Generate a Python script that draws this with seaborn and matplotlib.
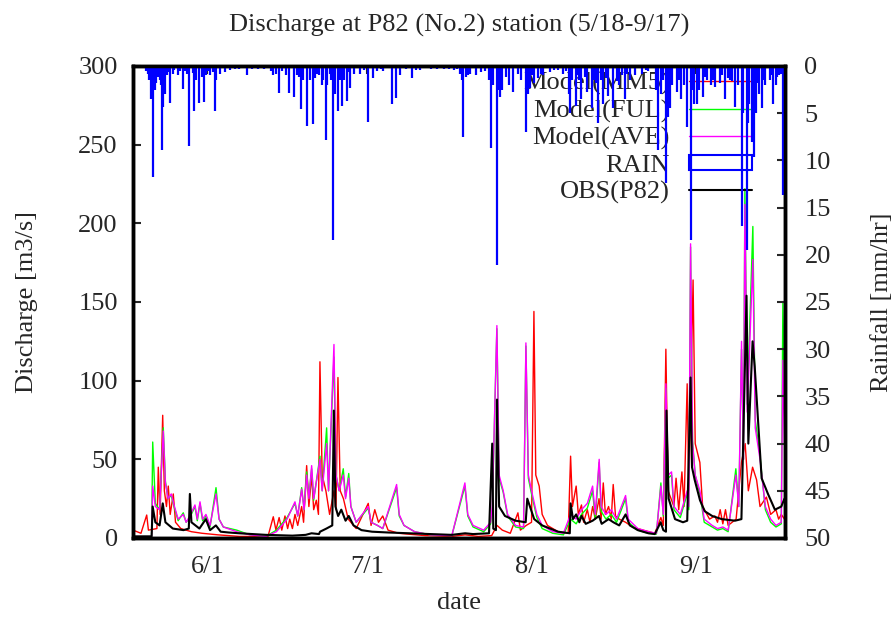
import matplotlib
matplotlib.use("Agg")
import matplotlib.pyplot as plt
import seaborn as sns
from matplotlib.lines import Line2D
from matplotlib.patches import Patch

# days counted from 5/18 00:00
tick_days = [14, 44, 75, 106]
tick_labels = ["6/1", "7/1", "8/1", "9/1"]

# OBS(P82)
obs_day = [0.0, 3.5, 3.7, 4.2, 5.0, 5.6, 6.1, 7.5, 9.5, 10.5,
           10.7, 11.0, 12.5, 13.7, 14.5, 15.6, 16.5, 18.0, 20.0, 25.0,
           30.0, 32.5, 33.6, 35.0, 35.2, 36.4, 37.5, 37.8, 38.1, 38.6,
           39.2, 40.0, 40.6, 41.5, 43.0, 45.0, 48.0, 52.0, 56.0, 60.0,
           62.5, 64.0, 67.0, 67.6, 67.8, 68.3, 68.5, 68.9, 70.0, 72.0,
           73.9, 74.2, 75.5, 77.0, 80.0, 82.2, 82.35, 82.8, 83.4, 84.0,
           84.4, 85.2, 86.5, 87.7, 88.2, 89.5, 90.4, 91.5, 92.7, 93.5,
           95.0, 97.0, 98.2, 99.3, 99.8, 100.3, 100.4, 100.8, 102.0, 103.5,
           104.3, 104.93, 105.2, 105.7, 106.7, 107.6, 109.0, 110.8, 113.3, 114.5,
           115.46, 115.8, 116.6, 117.0, 118.3, 119.5, 120.8, 122.0, 122.6]
obs_q = [1.0, 1.0, 20, 10, 8, 22, 10, 6, 5, 6,
         28, 10, 6, 12, 5, 8, 4, 3.5, 3, 2,
         1.5, 2, 3, 2.5, 4, 6, 8, 81, 20, 14,
         18, 11, 14, 8, 5, 4, 3.5, 3, 2.5, 2,
         3, 2.5, 3, 60, 6, 5, 88, 20, 14, 11,
         10, 25, 12, 8, 4, 3, 22, 12, 15, 10,
         14, 9, 11, 14, 9, 12, 10, 8, 15, 8,
         5, 3, 2.5, 10, 5, 4, 81, 25, 12, 10,
         11, 102, 45, 37, 24, 17, 14, 12, 11, 12,
         154, 60, 125, 109, 38, 28, 18, 20, 25]

# Model(MM5)
mm5_day = [0.0, 1.5, 2.58, 2.9, 4.5, 4.76, 5.1, 5.59, 5.9, 6.3,
           6.64, 7.0, 7.58, 8.0, 9.0, 11.0, 13.0, 16.0, 20.0, 25.4,
           26.4, 26.9, 27.5, 28.0, 28.6, 29.1, 29.5, 30.0, 30.48, 31.0,
           31.74, 32.1, 32.68, 33.1, 33.62, 34.0, 34.5, 34.9, 35.18, 35.6,
           36.3, 37.0, 37.82, 38.2, 38.57, 39.0, 39.6, 40.5, 42.0, 44.27,
           44.8, 45.5, 46.2, 47.0, 48.0, 50.0, 55.0, 60.0, 62.5, 65.0,
           67.5, 68.5, 69.5, 71.0, 72.44, 72.9, 74.0, 75.0, 75.45, 75.8,
           76.44, 77.0, 78.0, 80.0, 81.9, 82.35, 82.7, 83.4, 83.8, 84.4,
           84.8, 85.5, 86.0, 86.5, 87.0, 87.7, 88.1, 88.5, 88.9, 89.5,
           90.0, 90.37, 90.8, 91.5, 92.7, 94.0, 96.0, 98.2, 99.34, 99.8,
           100.28, 100.7, 101.8, 102.2, 102.7, 103.3, 103.7, 104.29, 104.6, 105.4,
           105.8, 106.68, 107.2, 108.5, 109.5, 110.0, 110.5, 111.0, 111.5, 112.0,
           113.5, 114.5, 115.2, 115.8, 116.6, 117.35, 118.0, 119.2, 120.0, 121.0,
           121.5, 122.0, 122.6]
mm5_q = [5, 3, 14.6, 5, 6, 45, 15, 78, 30, 20,
         33, 15, 28, 10, 6, 4, 3, 2, 1, 1,
         13.5, 5, 13, 5, 14, 6, 12, 6, 15, 8,
         20, 10, 46, 20, 40, 18, 24, 15, 112, 40,
         30, 15, 30, 18, 102, 30, 25, 12, 6, 22,
         8, 18, 10, 14, 5, 3, 1.5, 1, 2, 1,
         1.5, 8, 5, 3, 16, 5, 8, 10, 144, 40,
         33, 15, 8, 4, 3, 52, 20, 33, 15, 21,
         10, 18, 10, 20, 12, 25, 12, 35, 15, 20,
         12, 34, 14, 12, 10, 7, 5, 3, 13, 8,
         120, 30, 20, 38, 18, 42, 20, 98, 30, 164,
         60, 48, 20, 12, 14, 10, 18, 9, 18, 8,
         12, 48, 60, 30, 45, 37, 20, 26, 15, 18,
         12, 15, 12]

# Model(FUL) and Model(AVE) share the same time points
mod_day = [0.0, 3.5, 3.71, 4.2, 5.0, 5.7, 6.1, 6.6, 7.2, 7.8,
           8.5, 9.46, 10.0, 10.7, 11.66, 12.1, 12.61, 13.1, 13.73, 14.5,
           15.62, 16.2, 17.0, 19.51, 22.0, 25.0, 27.0, 28.0, 29.0, 30.48,
           31.0, 31.74, 32.2, 32.68, 33.1, 33.62, 34.0, 35.18, 35.6, 36.44,
           36.8, 37.82, 38.2, 38.8, 39.57, 40.0, 40.6, 41.0, 42.0, 44.27,
           44.8, 46.0, 47.0, 49.61, 50.1, 51.0, 53.0, 56.0, 60.0, 62.46,
           63.0, 64.0, 66.0, 67.3, 67.6, 68.48, 68.9, 69.67, 70.5, 72.0,
           73.5, 73.94, 74.4, 75.0, 76.0, 77.0, 79.0, 81.0, 82.35, 83.4,
           84.4, 85.5, 86.49, 87.0, 87.73, 88.1, 89.0, 90.0, 91.0, 92.7,
           93.2, 95.0, 97.0, 98.5, 99.34, 99.8, 100.28, 100.7, 101.35, 101.8,
           103.0, 104.29, 104.6, 104.93, 105.3, 105.8, 106.68, 107.5, 109.0, 110.0,
           111.0, 112.0, 113.45, 114.0, 114.52, 114.9, 115.15, 115.6, 116.65, 117.1,
           118.0, 119.0, 120.0, 121.0, 122.0, 122.3, 122.6]
ave_q = [1, 1, 33, 20, 18, 68, 35, 25, 28, 20,
         12, 15, 10, 14, 21, 12, 23, 12, 15, 8,
         28, 12, 7, 4, 2, 1, 4, 8, 12, 23,
         14, 31, 18, 40, 25, 46, 25, 50, 30, 60,
         30, 123, 40, 30, 40, 25, 38, 20, 10, 20,
         10, 8, 6, 34, 15, 8, 4, 2, 1.5, 35,
         15, 8, 5, 10, 20, 135, 40, 30, 15, 8,
         7, 124, 40, 30, 15, 8, 4, 3, 15, 12,
         18, 22, 33, 15, 50, 20, 15, 18, 12, 27,
         12, 6, 4, 3, 33, 15, 98, 40, 42, 20,
         15, 30, 20, 187, 60, 40, 30, 12, 8, 6,
         7, 5, 40, 20, 125, 50, 212, 80, 177, 70,
         50, 20, 12, 8, 10, 113, 60]
ful_q = [1, 1, 61, 22, 18, 70, 36, 25, 27, 19,
         11, 16, 10, 13, 20, 11, 22, 11, 14, 7,
         32, 12, 7, 5, 2, 1, 5, 9, 13, 22,
         14, 32, 18, 42, 26, 44, 24, 52, 30, 70,
         30, 115, 40, 30, 44, 26, 41, 20, 10, 19,
         10, 8, 6, 32, 14, 8, 4, 2, 1.5, 33,
         14, 7, 4, 9, 18, 133, 38, 29, 14, 7,
         6, 122, 38, 28, 13, 6, 3, 2, 12, 9,
         15, 19, 30, 12, 48, 17, 12, 15, 10, 25,
         10, 5, 3, 2.5, 35, 14, 95, 38, 40, 18,
         13, 28, 18, 185, 62, 40, 28, 10, 7, 5,
         6, 4, 44, 20, 120, 50, 222, 85, 198, 75,
         52, 18, 10, 7, 9, 150, 90]

# RAIN (mm/hr), main showers
rain_day = [2.8, 3.0, 3.33, 3.5, 3.71, 3.9, 4.14, 4.4, 4.7, 5.0,
            5.3, 5.52, 5.71, 6.02, 6.4, 6.96, 7.5, 8.53, 8.9, 9.35,
            10.54, 11.54, 11.8, 12.48, 13.42, 13.7, 14.49, 15.43, 15.7, 16.37,
            17.31, 18.25, 19.2, 21.39, 23.5, 26.4, 27.47, 28.0, 29.41, 30.29,
            30.8, 31.61, 32.0, 32.68, 33.3, 33.93, 34.2, 35.0, 35.5, 36.25,
            36.6, 37.2, 37.69, 38.1, 38.51, 39.0, 39.26, 39.7, 40.2, 40.83,
            41.5, 42.71, 44.27, 45.21, 46.0, 47.1, 48.67, 49.42, 50.26, 52.44,
            54.0, 56.0, 58.5, 60.5, 61.5, 62.0, 62.14, 62.6, 63.5, 64.5,
            65.5, 67.36, 67.8, 68.43, 68.7, 69.1, 69.5, 70.8, 71.6, 73.0,
            73.94, 74.4, 74.8, 75.5, 76.3, 77.2, 78.5, 80.0, 81.0, 82.0,
            82.3, 82.6, 83.3, 83.6, 84.3, 85.4, 86.4, 86.8, 87.5, 88.4,
            89.4, 90.3, 91.5, 92.6, 93.5, 94.5, 95.8, 97.0, 98.5, 98.84,
            99.3, 100.28, 100.72, 101.0, 101.5, 102.3, 103.2, 104.2, 104.93, 105.5,
            106.1, 106.5, 107.3, 108.0, 108.8, 109.6, 110.4, 111.5, 112.3, 113.26,
            113.8, 114.52, 114.8, 115.46, 115.7, 116.0, 116.5, 116.8, 117.3, 117.8,
            118.3, 119.0, 119.8, 120.5, 121.0, 121.5, 122.35]
rain_mm = [0.8, 1.5, 3.5, 2.0, 11.8, 2.5, 2.5, 1.8, 1.2, 1.5,
           2.0, 8.9, 4.3, 3.0, 1.0, 3.9, 0.8, 1.0, 0.5, 2.4,
           8.5, 4.8, 1.5, 3.9, 3.8, 1.0, 1.0, 4.8, 1.5, 0.8,
           0.6, 0.4, 0.3, 1.0, 0.3, 1.0, 2.9, 0.5, 2.9, 3.3,
           1.0, 4.6, 1.5, 6.4, 1.5, 6.1, 1.3, 1.0, 2.0, 7.8,
           2.0, 1.5, 18.4, 3.0, 4.8, 1.5, 4.2, 1.5, 3.7, 2.3,
           0.8, 0.8, 5.9, 1.3, 0.5, 0.5, 4.0, 3.4, 1.0, 1.3,
           0.4, 0.3, 0.3, 0.4, 0.8, 1.5, 7.5, 1.2, 0.8, 1.0,
           0.6, 8.7, 2.0, 21.1, 2.5, 3.3, 2.5, 2.0, 2.8, 1.5,
           7.0, 3.0, 2.3, 1.8, 1.3, 1.0, 0.6, 0.4, 0.8, 3.0,
           5.0, 1.5, 4.2, 1.0, 3.5, 2.8, 4.5, 1.5, 6.0, 4.0,
           3.2, 4.4, 2.0, 3.5, 1.5, 1.0, 0.8, 0.5, 2.5, 8.9,
           3.0, 12.4, 5.4, 4.5, 2.0, 2.8, 3.5, 6.5, 18.4, 4.0,
           4.0, 2.5, 3.3, 1.5, 2.0, 2.2, 1.8, 3.5, 1.5, 4.3,
           2.0, 17.0, 5.0, 19.5, 6.0, 4.0, 8.0, 9.6, 5.0, 3.0,
           4.5, 2.0, 1.5, 4.0, 2.0, 1.0, 13.7]

# RAIN (mm/hr), light drizzle hours
drizzle_day = [2.5, 4.55, 6.7, 7.8, 9.8, 10.2, 11.2, 12.9, 14.1, 15.1,
               19.9, 22.4, 24.7, 25.9, 27.0, 28.7, 31.2, 34.6, 35.8, 37.0,
               40.5, 43.4, 46.6, 51.3, 53.2, 57.2, 59.4, 61.0, 63.0, 66.2,
               67.0, 70.2, 72.4, 75.0, 76.8, 79.2, 81.5, 84.0, 85.0, 87.1,
               88.0, 89.0, 91.0, 92.1, 93.0, 96.5, 99.8, 102.8, 103.7, 105.2,
               107.7, 109.1, 110.9, 111.9, 112.8, 117.6, 118.7, 120.1, 121.2, 122.0]
drizzle_mm = [0.5, 1.0, 0.6, 0.4, 0.5, 0.8, 0.7, 1.2, 0.5, 0.6,
              0.3, 0.3, 0.3, 0.5, 0.8, 1.0, 1.2, 0.8, 1.5, 0.9,
              0.6, 0.4, 0.3, 0.3, 0.4, 0.3, 0.3, 0.3, 1.0, 0.5,
              1.5, 1.2, 0.8, 1.0, 0.8, 0.4, 0.5, 1.5, 1.2, 1.8,
              1.5, 1.3, 1.6, 1.0, 0.9, 0.4, 1.5, 1.5, 2.0, 2.5,
              1.2, 1.5, 1.0, 1.3, 1.6, 1.8, 1.5, 1.0, 1.2, 0.8]

sns.set_style("white")
plt.rcParams["font.family"] = ["Liberation Serif", "DejaVu Serif"]
fs = 19

fig = plt.figure(figsize=(8.96, 6.17), dpi=100)
ax = fig.add_axes([133 / 896, 1 - 538 / 617, 652 / 896, 472 / 617])
ax2 = ax.twinx()

sns.lineplot(x=mm5_day, y=mm5_q, ax=ax, color="#ff0000", lw=1.0, estimator=None, sort=False)
sns.lineplot(x=mod_day, y=ful_q, ax=ax, color="#00ff00", lw=1.0, estimator=None, sort=False)
sns.lineplot(x=mod_day, y=ave_q, ax=ax, color="#ff00ff", lw=1.0, estimator=None, sort=False)
sns.lineplot(x=obs_day, y=obs_q, ax=ax, color="black", lw=1.5, estimator=None, sort=False)
ax2.vlines(rain_day, 0, rain_mm, color="#0000ff", lw=1.6)
ax2.vlines(drizzle_day, 0, drizzle_mm, color="#0000ff", lw=1.6)

ax.set_xlim(0, 122.7)
ax.set_ylim(0, 300)
ax.set_yticks(range(0, 301, 50))
ax.set_xticks(tick_days)
ax.set_xticklabels(tick_labels)
ax2.set_ylim(50, 0)
ax2.set_yticks(range(0, 51, 5))

ax.tick_params(axis="y", direction="in", length=6, width=1.5, labelsize=fs, pad=11, right=False)
ax.tick_params(axis="x", direction="in", length=6, width=1.5, labelsize=fs, pad=13, top=True)
ax2.tick_params(axis="y", direction="in", length=6, width=1.5, labelsize=fs, pad=14)

for a in (ax, ax2):
    for sp in a.spines.values():
        sp.set_linewidth(2.5)
        sp.set_color("black")

ax.set_xlabel("date", fontsize=fs)
ax.xaxis.set_label_coords(0.5, -0.115)
ax.set_ylabel("Discharge [m3/s]", fontsize=fs)
ax.yaxis.set_label_coords(-0.146, 0.5)
ax2.set_ylabel("Rainfall [mm/hr]", fontsize=fs)
ax2.yaxis.set_label_coords(1.132, 0.5)

fig.text(459 / 896, 1 - 25 / 617, "Discharge at P82 (No.2) station (5/18-9/17)",
         ha="center", va="center", fontsize=fs)

handles = [Line2D([], [], color="#ff0000", lw=1.0),
           Line2D([], [], color="#00ff00", lw=1.0),
           Line2D([], [], color="#ff00ff", lw=1.0),
           Patch(facecolor="none", edgecolor="#0000ff", lw=1.5),
           Line2D([], [], color="black", lw=1.5)]
labels = ["Model(MM5)", "Model(FUL)", "Model(AVE)", "RAIN", "OBS(P82)"]
ax.legend(handles, labels, loc="upper right", bbox_to_anchor=(752 / 896, 1 - 72 / 617),
          bbox_transform=fig.transFigure, frameon=False, markerfirst=False,
          handlelength=2.4, handleheight=0.53, handletextpad=0.72, labelspacing=0.17,
          borderpad=0, borderaxespad=0, fontsize=fs)

fig.savefig("out.png", dpi=100)
